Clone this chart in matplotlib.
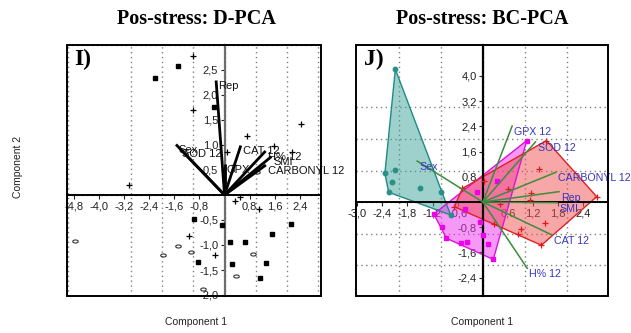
import numpy as np
import matplotlib
matplotlib.use("Agg")
import matplotlib.pyplot as plt
from matplotlib.ticker import FixedLocator, MultipleLocator, FuncFormatter
from matplotlib.patches import Rectangle, Polygon

plt.rcParams['font.family'] = ['Liberation Sans', 'DejaVu Sans']

# ---------------- Left panel (D-PCA) data ----------------
left_sq_x = [-1.47, -2.22, -0.35, -0.96, -0.09, 0.16, 0.64, 2.12, 1.53, -0.86, 0.25, 1.31, 1.13]
left_sq_y = [2.58, 2.33, 1.75, -0.48, -0.60, -0.95, -0.95, -0.59, -0.79, -1.34, -1.37, -1.35, -1.65]

left_plus_x = [-1.00, -1.02, -3.05, 0.71, 2.44, 1.57, 2.14, 0.08, 0.30, 0.32, 0.48, 1.10, -1.13, -0.29]
left_plus_y = [2.78, 1.70, 0.19, 1.17, 1.41, 0.97, 0.85, 0.85, 0.60, -0.13, -0.05, -0.29, -0.83, -1.21]

left_ell_x = [-4.79, -1.96, -1.48, -1.08, 0.91, 0.38, -0.70, 1.05]
left_ell_y = [-0.93, -1.20, -1.03, -1.14, -1.19, -1.62, -1.87, 0.45]

left_vec_names = ['Rep', 'Sex', 'SOD 12', 'GPX', 'CAT 12', 'H% 12', 'SMI', 'CARBONYL 12']
left_vec_x = [-0.27, -1.55, -1.43, 0.00, 0.52, 1.31, 1.50, 1.32]
left_vec_y = [2.29, 1.01, 0.93, 0.62, 0.99, 0.88, 0.77, 0.60]

left_xticks = [-4.8, -4.0, -3.2, -2.4, -1.6, -0.8, 0.8, 1.6, 2.4]
left_yticks = [2.5, 2.0, 1.5, 1.0, 0.5, -0.5, -1.0, -1.5, -2.0]

# ---------------- Right panel (BC-PCA) data ----------------
teal_x = [-2.09, -2.34, -2.11, -2.17, -2.25, -1.51, -1.00, -0.77]
teal_y = [4.21, 0.91, 1.01, 0.62, 0.31, 0.45, 0.33, -0.41]

mag_x = [1.05, 0.34, -0.15, -0.43, -0.07, 0.01, 0.13, 0.25, -0.37, -0.53, -0.87, -0.97, -1.17]
mag_y = [1.95, 0.67, 0.33, -0.22, -0.62, -1.05, -1.33, -1.82, -1.28, -1.31, -1.15, -0.78, -0.38]

red_x = [1.52, 1.34, 0.60, 0.02, 1.14, 1.12, 0.41, 0.26, 0.90, 0.85, 1.48, 1.40, 2.72, -0.49, -0.68]
red_y = [1.95, 1.04, 0.40, 0.67, 0.28, 0.06, -0.06, -0.70, -0.84, -1.02, -0.66, -1.37, 0.17, 0.43, -0.15]

right_vec_names = ['GPX 12', 'SOD 12', 'CARBONYL 12', 'Rep', 'SMI', 'CAT 12', 'H% 12', 'Sex']
right_vec_x = [0.70, 1.26, 1.74, 1.82, 1.78, 1.66, 1.06, -1.57]
right_vec_y = [2.41, 1.91, 0.94, 0.33, -0.02, -1.05, -2.10, 1.30]

right_xticks = [-3.0, -2.4, -1.8, -1.2, -0.6, 0.6, 1.2, 1.8, 2.4]
right_yticks = [4.0, 3.2, 2.4, 1.6, 0.8, -0.8, -1.6, -2.4]

titles = ['Pos-stress: D-PCA', 'Pos-stress: BC-PCA']
panel_tags = ['I)', 'J)']


def convex_hull(xs, ys):
    pts = sorted(set(zip(xs, ys)))
    def cross(o, a, b):
        return (a[0] - o[0]) * (b[1] - o[1]) - (a[1] - o[1]) * (b[0] - o[0])
    lower, upper = [], []
    for p in pts:
        while len(lower) >= 2 and cross(lower[-2], lower[-1], p) <= 0:
            lower.pop()
        lower.append(p)
    for p in reversed(pts):
        while len(upper) >= 2 and cross(upper[-2], upper[-1], p) <= 0:
            upper.pop()
        upper.append(p)
    return lower[:-1] + upper[:-1]


fmt = FuncFormatter(lambda v, p: f"{v:.1f}".replace('.', ','))


def style_axes(ax, xlim, ylim, xticks, yticks, yaxis_color):
    ax.set_xlim(*xlim)
    ax.set_ylim(*ylim)
    ax.spines['left'].set_position(('data', 0))
    ax.spines['bottom'].set_position(('data', 0))
    ax.spines['top'].set_visible(False)
    ax.spines['right'].set_visible(False)
    ax.spines['bottom'].set_linewidth(1.4)
    ax.spines['bottom'].set_color('black')
    ax.spines['left'].set_linewidth(1.6)
    ax.spines['left'].set_color(yaxis_color)
    ax.xaxis.set_major_locator(FixedLocator(xticks))
    ax.yaxis.set_major_locator(FixedLocator(yticks))
    ax.xaxis.set_major_formatter(fmt)
    ax.yaxis.set_major_formatter(fmt)
    ax.xaxis.set_minor_locator(MultipleLocator(1.0))
    ax.yaxis.set_minor_locator(MultipleLocator(1.0))
    ax.tick_params(which='major', direction='out', length=3, width=0.8,
                   labelsize=8, pad=1.5, colors='#222222')
    ax.tick_params(which='minor', length=0)
    ax.grid(which='minor', color='#808080', linestyle=(0, (1, 2.5)), linewidth=1.0)
    ax.grid(which='major', visible=False)
    ax.set_axisbelow(True)
    ax.add_patch(Rectangle((0, 0), 1, 1, transform=ax.transAxes, fill=False,
                           edgecolor='black', linewidth=1.4, clip_on=False, zorder=10))


fig = plt.figure(figsize=(6.31, 3.33), dpi=100)
axL = fig.add_axes([67 / 631, 1 - 296 / 333, 254 / 631, 251 / 333])
axR = fig.add_axes([356 / 631, 1 - 296 / 333, 252 / 631, 251 / 333])

# ---- Left ----
style_axes(axL, (-5.03, 3.08), (-2.02, 3.0), left_xticks, left_yticks, '#6e6e6e')
ell = [(np.cos(t), 0.55 * np.sin(t)) for t in np.linspace(0, 2 * np.pi, 25)]
axL.plot(left_sq_x, left_sq_y, linestyle='none', marker='s', markersize=3.2,
         color='black', zorder=3)
axL.plot(left_plus_x, left_plus_y, linestyle='none', marker='+', markersize=5,
         markeredgewidth=0.9, color='black', zorder=3)
axL.plot(left_ell_x, left_ell_y, linestyle='none', marker=ell, markersize=4,
         markerfacecolor='none', markeredgecolor='#333333', markeredgewidth=0.8, zorder=3)
for name, vx, vy in zip(left_vec_names, left_vec_x, left_vec_y):
    axL.plot([0, vx], [0, vy], color='black', linewidth=2.0, solid_capstyle='butt', zorder=4)
    axL.annotate(name, (vx, vy), xytext=(2, -6), textcoords='offset pixels',
                 ha='left', va='center', fontsize=8, color='#111111', zorder=5,
                 annotation_clip=False)

# ---- Right ----
style_axes(axR, (-3.03, 2.99), (-2.98, 4.98), right_xticks, right_yticks, 'black')
groups = [
    (teal_x, teal_y, '#3fa39a', '#1f8a85', 'o', '#2a8f88'),
    (mag_x, mag_y, '#ee33ee', '#dd11dd', 's', '#ee00ee'),
    (red_x, red_y, '#f05050', '#e02020', '+', '#e01818'),
]
for gx, gy, fc, ec, mk, mc in groups:
    hull = convex_hull(gx, gy)
    axR.add_patch(Polygon(hull, closed=True, facecolor=fc, alpha=0.5,
                          edgecolor='none', zorder=2))
    axR.add_patch(Polygon(hull, closed=True, facecolor='none', edgecolor=ec,
                          linewidth=1.0, zorder=2.5))
    if mk == '+':
        axR.plot(gx, gy, linestyle='none', marker=mk, markersize=4.5,
                 markeredgewidth=0.9, color=mc, zorder=3)
    else:
        axR.plot(gx, gy, linestyle='none', marker=mk, markersize=3.2,
                 color=mc, zorder=3)
for name, vx, vy in zip(right_vec_names, right_vec_x, right_vec_y):
    axR.plot([0, vx], [0, vy], color='#3c8c3c', linewidth=1.1, zorder=4)
    axR.annotate(name, (vx, vy), xytext=(2, -6), textcoords='offset pixels',
                 ha='left', va='center', fontsize=7.7, color='#3535c0', zorder=5,
                 annotation_clip=False)

# ---- Titles, tags and labels ----
for ax, title, tag, cx in [(axL, titles[0], panel_tags[0], 196 / 631),
                           (axR, titles[1], panel_tags[1], 482 / 631)]:
    fig.text(cx, 1 - 19 / 333, title, ha='center', va='center', fontsize=14.5,
             fontweight='bold', family='Liberation Serif')
    ax.text(0.03, 0.985, tag, transform=ax.transAxes, ha='left', va='top',
            fontsize=17, fontweight='bold', family='Liberation Serif', zorder=11)
    fig.text(cx, 1 - 322 / 333, 'Component 1', ha='center', va='center', fontsize=7.5,
             color='#222222')

fig.text(18 / 631, 1 - 167 / 333, 'Component 2', ha='center', va='center',
         rotation=90, fontsize=7.5, color='#222222')

fig.savefig('out.png', dpi=100)
